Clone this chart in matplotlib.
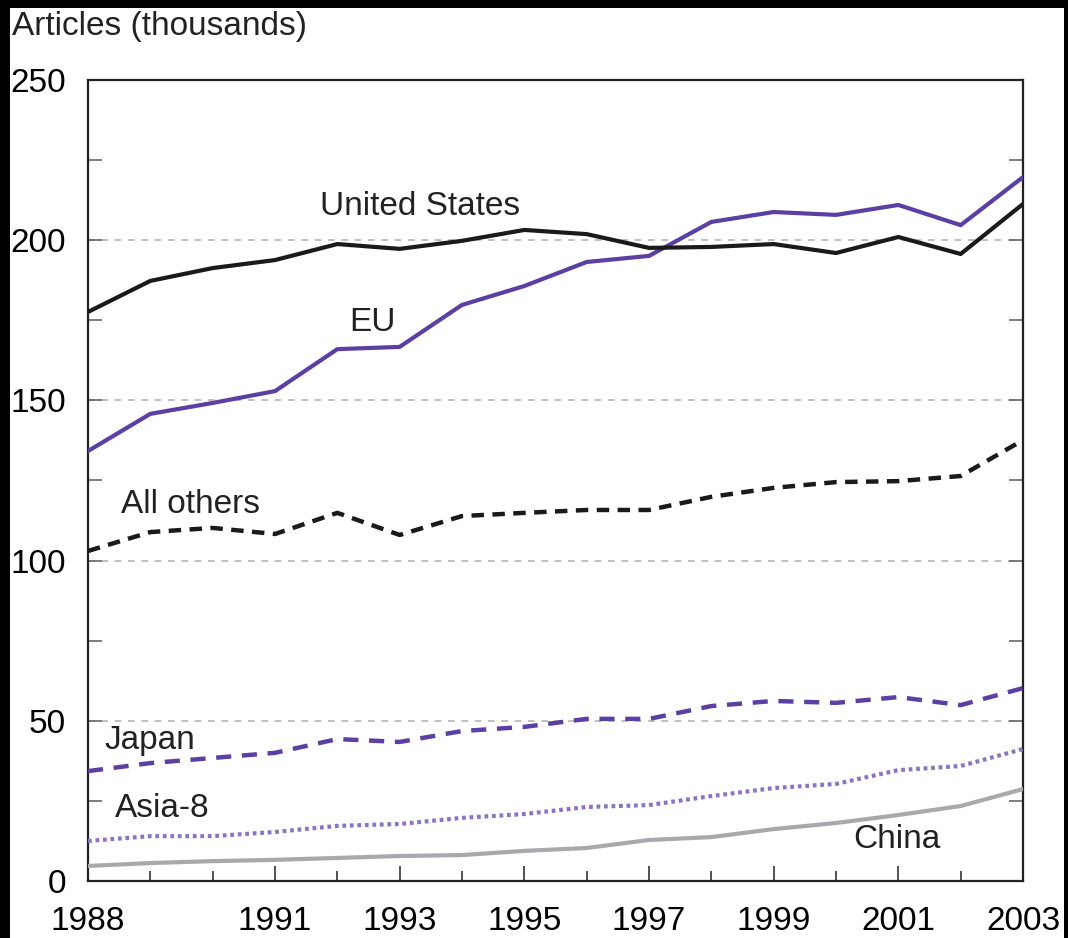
import numpy as np
import matplotlib
matplotlib.use("Agg")
import matplotlib.pyplot as plt
from matplotlib.patches import Rectangle
from matplotlib.ticker import FixedLocator, MultipleLocator

plt.rcParams['font.family'] = ['Liberation Sans', 'DejaVu Sans']

# Data (thousands of articles)
years = np.arange(1988, 2004)
united_states = [177.6, 187.3, 191.3, 193.8, 198.8, 197.3, 199.8, 203.2,
                 201.9, 197.6, 197.9, 198.8, 196.0, 201.0, 195.7, 211.3]
eu = [134.2, 145.8, 149.2, 152.9, 166.0, 166.7, 179.8, 185.7,
      193.2, 195.1, 205.7, 208.8, 207.9, 211.0, 204.7, 219.7]
all_others = [103.0, 108.9, 110.2, 108.3, 114.9, 108.0, 113.9, 114.9,
              115.8, 115.8, 119.9, 122.7, 124.5, 124.8, 126.4, 137.6]
japan = [34.3, 36.8, 38.4, 40.0, 44.3, 43.4, 46.8, 48.1,
         50.6, 50.6, 54.6, 56.2, 55.6, 57.4, 54.9, 60.2]
asia8 = [12.5, 14.0, 14.0, 15.3, 17.2, 17.8, 19.7, 20.9,
         23.1, 23.7, 26.5, 29.0, 30.3, 34.6, 35.9, 41.2]
china = [4.7, 5.6, 6.2, 6.6, 7.2, 7.8, 8.1, 9.4,
         10.3, 12.8, 13.7, 16.2, 18.1, 20.6, 23.4, 28.7]

major_years = [1988, 1991, 1993, 1995, 1997, 1999, 2001, 2003]

purple = "#5b3fa3"
light_purple = "#8a74c4"
grey = "#a9a9ad"
black = "#1a1a1a"

fig = plt.figure(figsize=(10.68, 9.38), dpi=100, facecolor="black")
# white page inside the black frame
fig.patches.append(Rectangle((10 / 1068, 0), 1054 / 1068, 930 / 938,
                             transform=fig.transFigure, facecolor="white",
                             edgecolor="none", zorder=-10))

ax = fig.add_axes([88 / 1068, 57 / 938, 935 / 1068, 801 / 938])
ax.set_facecolor("white")

for v in [50, 100, 150, 200]:
    ax.axhline(v, color="#b5b5b5", lw=1.2, ls=(0, (4, 4)), zorder=1)

ax.plot(years, china, color=grey, lw=3, zorder=3)
ax.plot(years, asia8, color=light_purple, lw=3, ls=(0, (0.9, 0.9)), zorder=3)
ax.plot(years, japan, color=purple, lw=3.2, ls=(0, (3.4, 2.4)), zorder=3)
ax.plot(years, all_others, color=black, lw=3.2, ls=(0, (2.8, 1.9)), zorder=3)
ax.plot(years, eu, color=purple, lw=3, zorder=4)
ax.plot(years, united_states, color=black, lw=3, zorder=4)

ax.set_xlim(1988, 2003)
ax.set_ylim(0, 250)

ax.xaxis.set_major_locator(FixedLocator(major_years))
ax.xaxis.set_minor_locator(FixedLocator([y for y in years if y not in major_years]))
ax.yaxis.set_major_locator(MultipleLocator(50))
ax.yaxis.set_minor_locator(MultipleLocator(25))

ax.tick_params(axis="x", which="major", direction="in", length=11, width=1.2,
               color="#333333", labelsize=24, pad=18, top=False)
ax.tick_params(axis="x", which="minor", direction="in", length=7.5, width=1.2,
               color="#333333", top=False)
ax.tick_params(axis="y", which="both", direction="in", length=10, width=1.2,
               color="#666666", labelsize=24, pad=16, right=True)

for s in ax.spines.values():
    s.set_color("#222222")
    s.set_linewidth(1.6)

tk = dict(fontsize=24, color="#222222", ha="center", va="center", zorder=5)
ax.text(1993.33, 210.4, "United States", **tk)
ax.text(1992.56, 174.2, "EU", **tk)
ax.text(1989.64, 117.4, "All others", **tk)
ax.text(1988.99, 44.0, "Japan", **tk)
ax.text(1989.19, 22.5, "Asia-8", **tk)
ax.text(2000.98, 12.8, "China", **tk)

fig.text(12 / 1068, 1 - 27 / 938, "Articles (thousands)", fontsize=24,
         color="#222222", ha="left", va="center")

fig.savefig("out.png", dpi=100, facecolor=fig.get_facecolor())
